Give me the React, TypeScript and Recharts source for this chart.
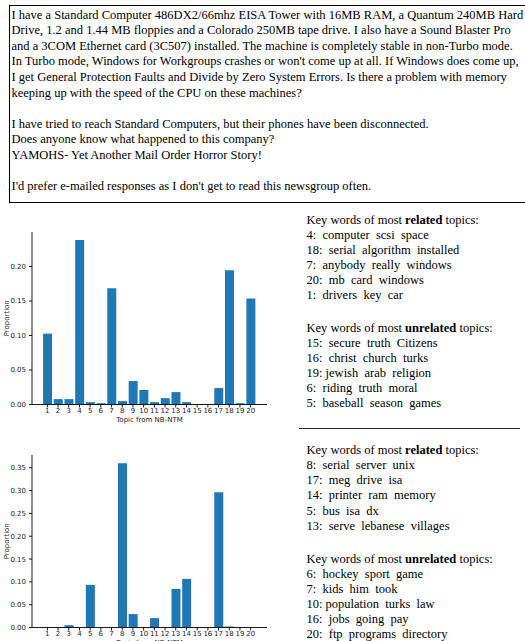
import React from "react";
import { BarChart, Bar, XAxis, YAxis } from "recharts";

// topics 1..20 from NB-NTM
const topics = ["1", "2", "3", "4", "5", "6", "7", "8", "9", "10", "11", "12", "13", "14", "15", "16", "17", "18", "19", "20"];

// topic proportions
const docAProportion = [0.1027, 0.0078, 0.0078, 0.2384, 0.0034, 0.0019, 0.1684, 0.0049, 0.034, 0.021, 0.0034, 0.0092, 0.018, 0.0034, 0.0005, 0.0005, 0.0238, 0.1946, 0.0019, 0.1538];
const docBProportion = [0, 0, 0.005, 0, 0.0934, 0, 0, 0.36, 0.0294, 0, 0.0206, 0, 0.0845, 0.1066, 0, 0, 0.2963, 0.0022, 0, 0];

const docATicks = [0, 0.05, 0.1, 0.15, 0.2];
const docBTicks = [0, 0.05, 0.1, 0.15, 0.2, 0.25, 0.3, 0.35];

const postLines = [
  "I have a Standard Computer 486DX2/66mhz EISA Tower with 16MB RAM, a Quantum 240MB Hard",
  "Drive, 1.2 and 1.44 MB floppies and a Colorado 250MB tape drive. I also have a Sound Blaster Pro",
  "and a 3COM Ethernet card (3C507) installed. The machine is completely stable in non-Turbo mode.",
  "In Turbo mode, Windows for Workgroups crashes or won't come up at all. If Windows does come up,",
  "I get General Protection Faults and Divide by Zero System Errors. Is there a problem with memory",
  "keeping up with the speed of the CPU on these machines?",
  "",
  "I have tried to reach Standard Computers, but their phones have been disconnected.",
  "Does anyone know what happened to this company?",
  "YAMOHS- Yet Another Mail Order Horror Story!",
  "",
  "I'd prefer e-mailed responses as I don't get to read this newsgroup often.",
];

const relatedA = ["4:  computer  scsi  space", "18:  serial  algorithm  installed", "7:  anybody  really  windows", "20:  mb  card  windows", "1:  drivers  key  car"];
const unrelatedA = ["15:  secure  truth  Citizens", "16:  christ  church  turks", "19: jewish  arab  religion", "6:  riding  truth  moral", "5:  baseball  season  games"];
const relatedB = ["8:  serial  server  unix", "17:  meg  drive  isa", "14:  printer  ram  memory", "5:  bus  isa  dx", "13:  serve  lebanese  villages"];
const unrelatedB = ["6:  hockey  sport  game", "7:  kids  him  took", "10: population  turks  law", "16:  jobs  going  pay", "20:  ftp  programs  directory"];

const tickFont = { fontSize: 7, fontFamily: "DejaVu Sans", fill: "#222" };
const spine = { stroke: "#000", strokeWidth: 0.9 };

function YLabel(props: any) {
  const vb = props.viewBox;
  const cy = vb.y + vb.height / 2;
  return (
    <text x={7} y={cy} transform={`rotate(-90, 7, ${cy})`} textAnchor="middle" dominantBaseline="central" style={tickFont}>
      Proportion
    </text>
  );
}

function XLabel(props: any) {
  const vb = props.viewBox;
  return (
    <text x={vb.x + vb.width / 2} y={vb.y + 15.5} textAnchor="middle" dominantBaseline="central" style={tickFont}>
      Topic from NB-NTM
    </text>
  );
}

function TopicChart({ values, ticks, top, max }: { values: number[]; ticks: number[]; top: number; max: number }) {
  const data = topics.map((t, i) => ({ topic: t, p: values[i] }));
  return (
    <div style={{ position: "absolute", left: 0, top }}>
      <BarChart width={275} height={205} data={data} margin={{ top: 7, right: 8, bottom: 5, left: 0 }} barCategoryGap="10%">
        <XAxis
          dataKey="topic"
          interval={0}
          height={20.5}
          padding={{ left: 10, right: 11 }}
          tick={tickFont}
          tickSize={3}
          tickMargin={1}
          axisLine={spine}
          tickLine={spine}
          label={<XLabel />}
        />
        <XAxis xAxisId="top" orientation="top" dataKey="topic" height={0} tick={false} tickLine={false} axisLine={spine} />
        <YAxis
          width={32}
          domain={[0, max]}
          ticks={ticks}
          tickFormatter={(v: number) => v.toFixed(2)}
          tick={tickFont}
          tickSize={3}
          tickMargin={3}
          axisLine={spine}
          tickLine={spine}
          label={<YLabel />}
        />
        <YAxis yAxisId="right" orientation="right" width={0} tick={false} tickLine={false} axisLine={spine} />
        <Bar dataKey="p" fill="#1f77b4" isAnimationActive={false} />
      </BarChart>
    </div>
  );
}

function KeyBlock({ top, kind, lines }: { top: number; kind: string; lines: string[] }) {
  return (
    <div style={{ position: "absolute", left: 306.5, top, fontSize: 12.5, lineHeight: "15.1px", whiteSpace: "pre" }}>
      <div>
        Key words of most <b>{kind}</b> topics:
      </div>
      {lines.map((l) => (
        <div key={l}>{l}</div>
      ))}
    </div>
  );
}

export default function App() {
  return (
    <div
      style={{
        position: "absolute",
        left: 0,
        top: 0,
        width: 525,
        height: 641,
        overflow: "hidden",
        background: "#fff",
        color: "#000",
        fontFamily: '"Liberation Serif", "Times New Roman", serif',
      }}
    >
      <div
        style={{
          position: "absolute",
          left: 9,
          top: 4.5,
          width: 560,
          height: 196,
          border: "1px solid #000",
        }}
      />
      <div style={{ position: "absolute", left: 11.5, top: 7.7, fontSize: 12.5, lineHeight: "15.6px", whiteSpace: "pre" }}>
        {postLines.map((l, i) => (
          <div key={i} style={{ height: 15.6 }}>
            {l}
          </div>
        ))}
      </div>

      <TopicChart values={docAProportion} ticks={docATicks} top={225} max={0.25} />
      <TopicChart values={docBProportion} ticks={docBTicks} top={448} max={0.378} />

      <KeyBlock top={212.5} kind="related" lines={relatedA} />
      <KeyBlock top={320.5} kind="unrelated" lines={unrelatedA} />
      <div style={{ position: "absolute", left: 299, top: 427.6, width: 221, height: 1.3, background: "#222" }} />
      <KeyBlock top={443.2} kind="related" lines={relatedB} />
      <KeyBlock top={552} kind="unrelated" lines={unrelatedB} />
    </div>
  );
}
